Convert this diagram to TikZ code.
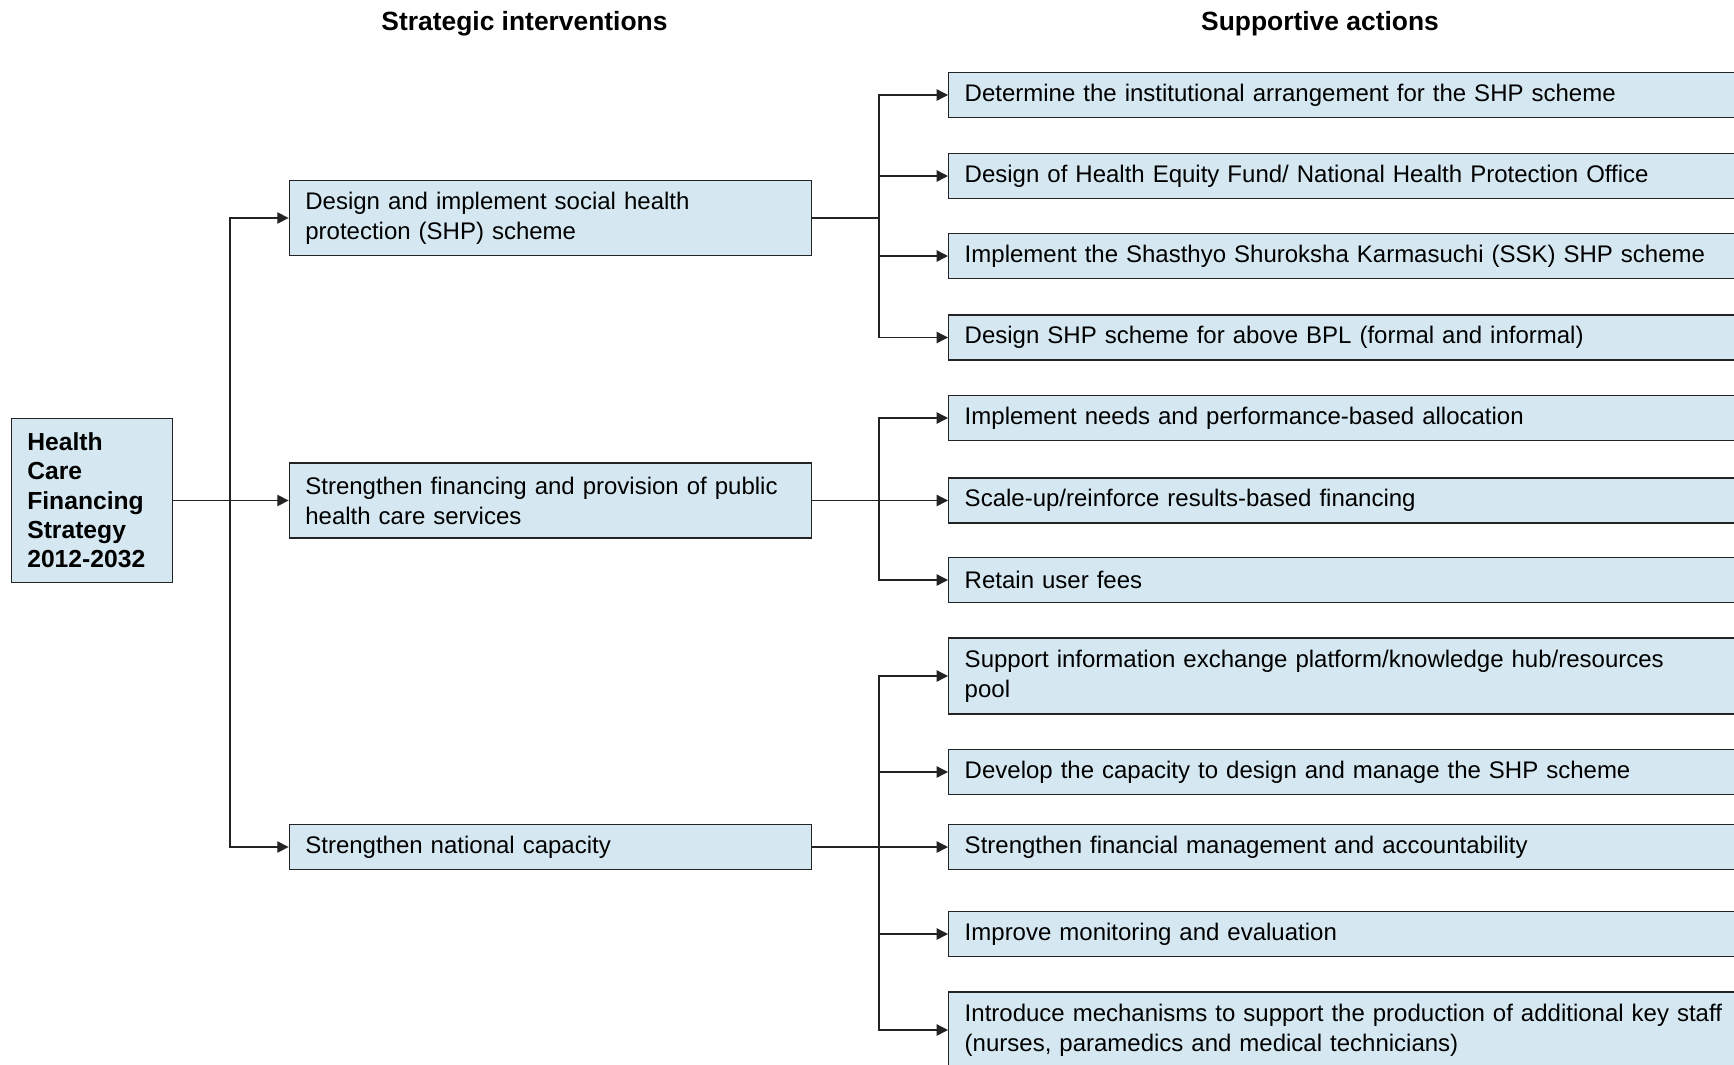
\documentclass[tikz,border=0pt]{standalone}
\usepackage{fontspec}
\setmainfont{Liberation Sans}
\usetikzlibrary{arrows.meta}
\definecolor{boxfill}{RGB}{213,232,241}
\definecolor{linecol}{RGB}{35,35,35}
\begin{document}
\begin{tikzpicture}[x=0.75pt,y=-0.75pt,
  box/.style={draw=linecol, line width=1.1pt, fill=boxfill, inner xsep=12pt, inner ysep=0pt,
    align=left, font=\fontsize{18pt}{22.5pt}\selectfont},
  abox/.style={box, anchor=west, text width=585pt, minimum height=34pt},
  abox2/.style={box, anchor=west, text width=585pt, minimum height=57pt},
  sbox/.style={box, anchor=west, text width=367.5pt, minimum height=34pt},
  sbox2/.style={box, anchor=west, text width=367.5pt, minimum height=56.25pt},
  rootbox/.style={box, text width=96.75pt, minimum height=123pt,
    font=\fontsize{18.5pt}{22pt}\selectfont\bfseries},
  title/.style={font=\fontsize{19.8pt}{24pt}\selectfont\bfseries, inner sep=0pt},
  ln/.style={draw=linecol, line width=1pt},
  arr/.style={draw=linecol, line width=1pt, -{Triangle[length=8.5pt,width=8.5pt]}}
]
\useasboundingbox (0,0) rectangle (1734,1064);
\clip (0,0) rectangle (1734,1064);

% titles
\node[title] (t1) at (524.5,24) {Strategic interventions};
\node[title] (t2) at (1320,24) {Supportive actions};

% root
\node[rootbox] (root) at (91.8,500.5) {Health\\Care\\Financing\\Strategy\\2012-2032};

% strategic interventions
\node[sbox2] (b1) at (288.6,218) {Design and implement social health\\protection (SHP) scheme};
\node[sbox2] (b2) at (288.6,500.5) {Strengthen financing and provision of public\\health care services};
\node[sbox] (b3) at (288.6,847) {Strengthen national capacity};

% supportive actions
\node[abox] (r1) at (948,95) {Determine the institutional arrangement for the SHP scheme};
\node[abox] (r2) at (948,176) {Design of Health Equity Fund/ National Health Protection Office};
\node[abox] (r3) at (948,256) {Implement the Shasthyo Shuroksha Karmasuchi (SSK) SHP scheme};
\node[abox] (r4) at (948,337.5) {Design SHP scheme for above BPL (formal and informal)};
\node[abox] (r5) at (948,418) {Implement needs and performance-based allocation};
\node[abox] (r6) at (948,500.5) {Scale-up/reinforce results-based financing};
\node[abox] (r7) at (948,580) {Retain user fees};
\node[abox2] (r8) at (948,676) {Support information exchange platform/knowledge hub/resources\\pool};
\node[abox] (r9) at (948,772) {Develop the capacity to design and manage the SHP scheme};
\node[abox] (r10) at (948,847) {Strengthen financial management and accountability};
\node[abox] (r11) at (948,934) {Improve monitoring and evaluation};
\node[abox2] (r12) at (948,1030) {Introduce mechanisms to support the production of additional key staff\\(nurses, paramedics and medical technicians)};

% connectors root -> interventions
\coordinate (t0) at (230,500.5);
\draw[ln] (root.east) -- (t0);
\draw[arr] (t0) |- (b1.west);
\draw[arr] (t0) -- (b2.west);
\draw[arr] (t0) |- (b3.west);

% group 1
\coordinate (u1) at (879,218);
\draw[ln] (b1.east) -- (u1);
\draw[arr] (u1) |- (r1.west);
\draw[arr] (u1) |- (r2.west);
\draw[arr] (u1) |- (r3.west);
\draw[arr] (u1) |- (r4.west);

% group 2
\coordinate (u2) at (879,500.5);
\draw[ln] (b2.east) -- (u2);
\draw[arr] (u2) |- (r5.west);
\draw[arr] (u2) -- (r6.west);
\draw[arr] (u2) |- (r7.west);

% group 3
\coordinate (u3) at (879,847);
\draw[ln] (b3.east) -- (u3);
\draw[arr] (u3) |- (r8.west);
\draw[arr] (u3) |- (r9.west);
\draw[arr] (u3) -- (r10.west);
\draw[arr] (u3) |- (r11.west);
\draw[arr] (u3) |- (r12.west);
\end{tikzpicture}
\end{document}
